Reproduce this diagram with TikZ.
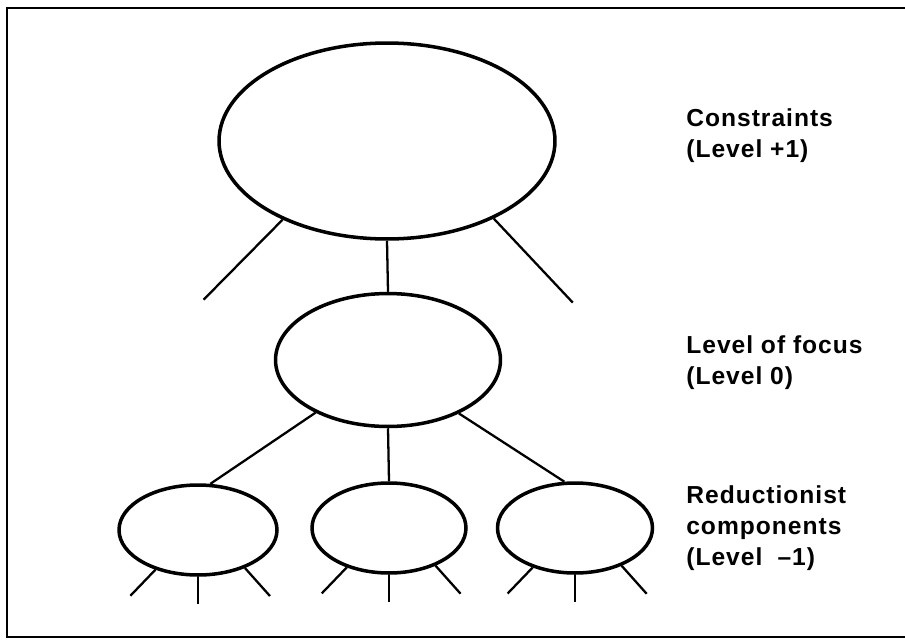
\documentclass[tikz,border=0pt]{standalone}
\usepackage{fontspec}
\setmainfont{Liberation Sans}
\newfontfamily\labelfont{Liberation Sans}[LetterSpace=4]
\usetikzlibrary{shapes.geometric}
\tikzset{level/.style={draw,ellipse,line width=2pt,inner sep=0pt},link/.style={line width=1.3pt},frame/.style={line width=1.3pt},lbl/.style={anchor=west,align=left,inner sep=0pt,font=\labelfont\bfseries\fontsize{14}{17.6}\selectfont}}

\begin{document}
\begin{tikzpicture}[x=0.02cm,y=-0.02cm]
\useasboundingbox (0,0) rectangle (905,639);
\draw[frame] (905,8) -- (7,8) -- (7,637) -- (905,637);
\node[level,minimum width=6.72cm,minimum height=3.92cm] (constr) at (387,141) {};
\node[level,minimum width=4.5cm,minimum height=2.66cm] (focus) at (388,360) {};
\node[level,minimum width=3.16cm,minimum height=1.8cm] (compL) at (198,530) {};
\node[level,minimum width=3.08cm,minimum height=1.8cm] (compM) at (389,528) {};
\node[level,minimum width=3.1cm,minimum height=1.8cm] (compR) at (575,528) {};
\draw[link] (constr.217) -- ++(-79,80); \draw[link] (constr.324) -- ++(79,84);
\draw[link] (constr.south) -- (focus.north);
\draw[link] (focus.216) -- (compL.75); \draw[link] (focus.south) -- (compM.north); \draw[link] (focus.323) -- (compR.103);
\foreach \c in {compL,compM,compR}{
  \draw[link] (\c.223) -- ++(-25,26); \draw[link] (\c.south) -- ++(0,27); \draw[link] (\c.321) -- ++(25,28);
}
\node[lbl] (constrtxt) at (686,136) {Constraints\\(Level +1)};
\node[lbl] (focustxt) at (686,363) {Level of focus\\(Level 0)};
\node[lbl] (comptxt) at (686,528) {Reductionist\\components\\(Level\hspace{0.3em} \textendash 1)};
\end{tikzpicture}
\end{document}
